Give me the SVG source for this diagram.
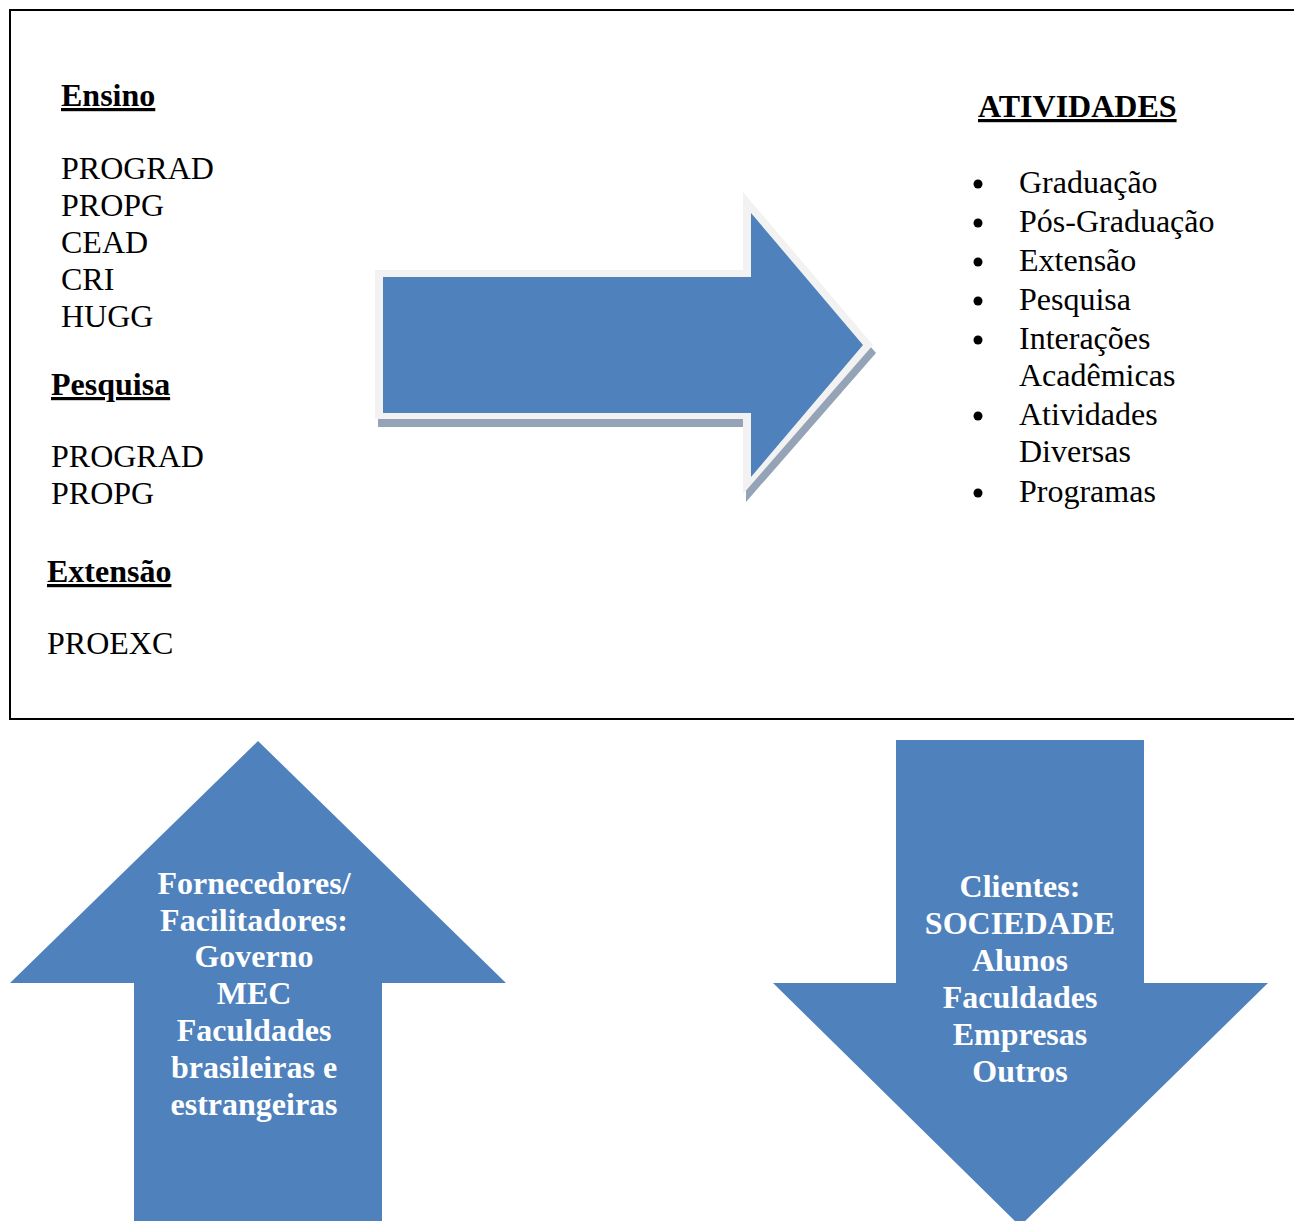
<svg xmlns="http://www.w3.org/2000/svg" width="1294" height="1221" viewBox="0 0 1294 1221">
<style>
text{font-family:"Liberation Serif","Times New Roman",serif;font-size:32px;fill:#000}
.b{font-weight:bold}
.u{text-decoration:underline}
.w{fill:#fff;font-weight:bold;text-anchor:middle}
.blue{fill:#4F81BD}
</style>
<rect width="1294" height="1221" fill="#fff"/>
<g id="main-box">
<rect x="10" y="10" width="1300" height="709" fill="none" stroke="#000" stroke-width="2"/>
</g>
<g id="left-list">
<text x="61" y="106" class="b u">Ensino</text>
<text x="61" y="179">PROGRAD</text>
<text x="61" y="216">PROPG</text>
<text x="61" y="253">CEAD</text>
<text x="61" y="290">CRI</text>
<text x="61" y="327">HUGG</text>
<text x="51" y="395" class="b u">Pesquisa</text>
<text x="51" y="467">PROGRAD</text>
<text x="51" y="504">PROPG</text>
<text x="47" y="582" class="b u">Extensão</text>
<text x="47" y="654">PROEXC</text>
</g>
<g id="connectors">
<g id="right-arrow">
<polygon points="378,278 746,278 746,200 876,353 746,502 746,427 378,427" fill="#94A3B6"/>
<polygon points="375,270 743,270 743,192 873,345 743,494 743,419 375,419" fill="#F2F2F2"/>
<polygon class="blue" points="383,277 751,277 751,213 863,345 751,477 751,413 383,413"/>
</g>
</g>
<g id="activities">
<text x="978" y="117" class="b u">ATIVIDADES</text>
<g fill="#000">
<circle cx="978" cy="184" r="4.5"/>
<circle cx="978" cy="223" r="4.5"/>
<circle cx="978" cy="262" r="4.5"/>
<circle cx="978" cy="301" r="4.5"/>
<circle cx="978" cy="340" r="4.5"/>
<circle cx="978" cy="416" r="4.5"/>
<circle cx="978" cy="493" r="4.5"/>
</g>
<text x="1019" y="193">Graduação</text>
<text x="1019" y="232">Pós-Graduação</text>
<text x="1019" y="271">Extensão</text>
<text x="1019" y="310">Pesquisa</text>
<text x="1019" y="349">Interações</text>
<text x="1019" y="386">Acadêmicas</text>
<text x="1019" y="425">Atividades</text>
<text x="1019" y="462">Diversas</text>
<text x="1019" y="502">Programas</text>
</g>
<g id="up-arrow">
<polygon class="blue" points="258,741 506,983 382,983 382,1221 134,1221 134,983 10,983"/>
<text class="w" x="254" y="894">Fornecedores/</text>
<text class="w" x="254" y="931">Facilitadores:</text>
<text class="w" x="254" y="967">Governo</text>
<text class="w" x="254" y="1004">MEC</text>
<text class="w" x="254" y="1041">Faculdades</text>
<text class="w" x="254" y="1078">brasileiras e</text>
<text class="w" x="254" y="1115">estrangeiras</text>
</g>
<g id="down-arrow">
<polygon class="blue" points="896,740 1144,740 1144,983 1268,983 1020,1226 773,983 896,983"/>
<text class="w" x="1020" y="897">Clientes:</text>
<text class="w" x="1020" y="934">SOCIEDADE</text>
<text class="w" x="1020" y="971">Alunos</text>
<text class="w" x="1020" y="1008">Faculdades</text>
<text class="w" x="1020" y="1045">Empresas</text>
<text class="w" x="1020" y="1082">Outros</text>
</g>
</svg>
